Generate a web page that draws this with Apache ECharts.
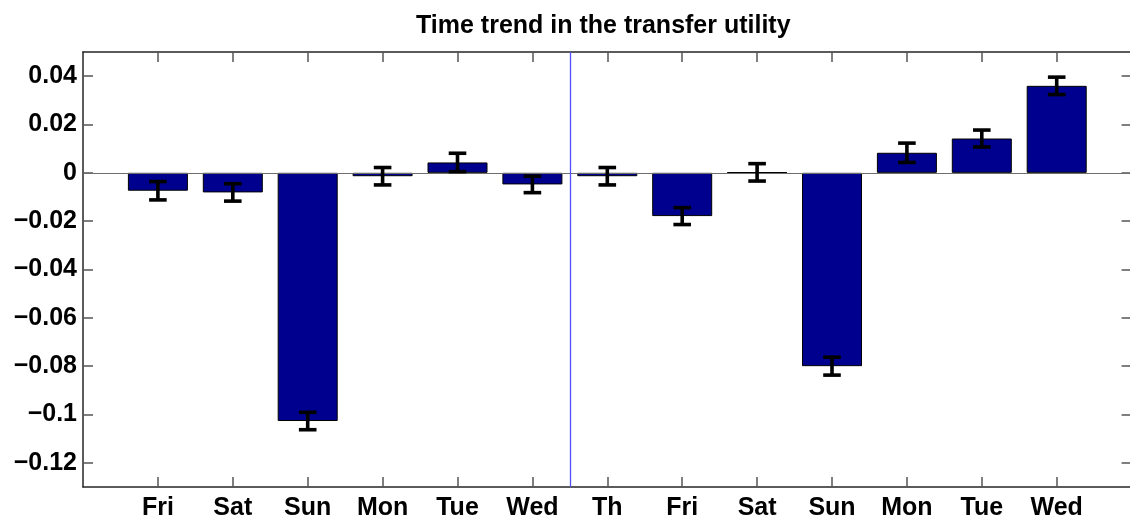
<!DOCTYPE html>
<html>
<head>
<meta charset="utf-8">
<script src="https://cdn.jsdelivr.net/npm/echarts@6/dist/echarts.min.js"></script>
<style>
html,body{margin:0;padding:0;background:#fff;}
#chart{width:1130px;height:523px;}
</style>
</head>
<body>
<div id="chart"></div>
<script>
var categories = ['Fri','Sat','Sun','Mon','Tue','Wed','Th','Fri','Sat','Sun','Mon','Tue','Wed'];
var values = [-0.0074, -0.0081, -0.1027, -0.0014, 0.0043, -0.0048, -0.0014, -0.0179, 0.0002, -0.0800, 0.0083, 0.0142, 0.0360];
var errors = [0.0038, 0.0036, 0.0036, 0.0036, 0.0038, 0.0034, 0.0036, 0.0035, 0.0036, 0.0037, 0.0040, 0.0035, 0.0036];
var yTickValues = [-0.12, -0.1, -0.08, -0.06, -0.04, -0.02, 0, 0.02, 0.04];
var yTickLabels = ['\u22120.12', '\u22120.1', '\u22120.08', '\u22120.06', '\u22120.04', '\u22120.02', '0', '0.02', '0.04'];
var splitPosition = 6.5;
var titleText = 'Time trend in the transfer utility';

var positions = categories.map(function (c, i) { return i + 1; });
var barData = values.map(function (v, i) { return [positions[i], v]; });
var errData = values.map(function (v, i) { return [positions[i], v, errors[i]]; });

var font = 'Liberation Sans, Arial, Helvetica, sans-serif';
var chart = echarts.init(document.getElementById('chart'), null, {renderer: 'canvas'});

var axisLineStyle = {color: '#262626', width: 1.5};
var tickStyle = {color: '#555', width: 1.5};

var option = {
  animation: false,
  backgroundColor: '#fff',
  title: {
    text: titleText,
    left: 411,
    top: 9,
    textStyle: {fontFamily: font, fontWeight: 'bold', fontSize: 25, color: '#000'}
  },
  grid: {left: 83, top: 52, width: 1048.6, height: 435, containLabel: false, outerBoundsMode: 'none'},
  xAxis: [{
    type: 'value', min: 0, max: 14, position: 'bottom',
    axisLine: {show: true, onZero: false, lineStyle: axisLineStyle},
    axisTick: {show: true, inside: true, length: 10, lineStyle: tickStyle, customValues: positions},
    axisLabel: {
      show: true, margin: 9, customValues: positions,
      fontFamily: font, fontWeight: 'bold', fontSize: 25, color: '#000',
      formatter: function (v) { return categories[Math.round(v) - 1] || ''; }
    },
    splitLine: {show: false}
  }, {
    type: 'value', min: 0, max: 14, position: 'top',
    axisLine: {show: true, onZero: false, lineStyle: axisLineStyle},
    axisTick: {show: true, inside: true, length: 10, lineStyle: tickStyle, customValues: positions},
    axisLabel: {show: false},
    splitLine: {show: false}
  }],
  yAxis: [{
    type: 'value', min: -0.13, max: 0.05, position: 'left',
    axisLine: {show: true, onZero: false, lineStyle: axisLineStyle},
    axisTick: {show: true, inside: true, length: 10, lineStyle: tickStyle, customValues: yTickValues},
    axisLabel: {
      show: true, margin: 6, customValues: yTickValues,
      fontFamily: font, fontWeight: 'bold', fontSize: 25, color: '#000',
      formatter: function (v) {
        for (var i = 0; i < yTickValues.length; i++) {
          if (Math.abs(yTickValues[i] - v) < 1e-9) return yTickLabels[i];
        }
        return '';
      }
    },
    splitLine: {show: false}
  }, {
    type: 'value', min: -0.13, max: 0.05, position: 'right',
    axisLine: {show: true, onZero: false, lineStyle: axisLineStyle},
    axisTick: {show: true, inside: true, length: 10, lineStyle: tickStyle, customValues: yTickValues},
    axisLabel: {show: false},
    splitLine: {show: false}
  }],
  series: [{
    type: 'bar',
    xAxisIndex: 0, yAxisIndex: 0,
    data: barData,
    barWidth: 60,
    itemStyle: {color: '#00008F', borderColor: '#000', borderWidth: 1},
    markLine: {
      silent: true, symbol: 'none', label: {show: false},
      lineStyle: {color: '#6e6e6e', width: 1.2, type: 'solid'},
      data: [{yAxis: 0}]
    },
    z: 2
  }, {
    type: 'custom',
    xAxisIndex: 0, yAxisIndex: 0,
    data: errData,
    renderItem: function (params, api) {
      var x = api.value(0), v = api.value(1), e = api.value(2);
      var top = api.coord([x, v + e]);
      var bot = api.coord([x, v - e]);
      var hw = 8.8;
      var st = {stroke: '#000', lineWidth: 3.6};
      return {
        type: 'group',
        children: [
          {type: 'line', shape: {x1: top[0], y1: top[1], x2: bot[0], y2: bot[1]}, style: st},
          {type: 'line', shape: {x1: top[0] - hw, y1: top[1], x2: top[0] + hw, y2: top[1]}, style: st},
          {type: 'line', shape: {x1: bot[0] - hw, y1: bot[1], x2: bot[0] + hw, y2: bot[1]}, style: st}
        ]
      };
    },
    markLine: {
      silent: true, symbol: 'none', label: {show: false},
      lineStyle: {color: '#5050ff', width: 1.3, type: 'solid', opacity: 1},
      emphasis: {disabled: true},
      data: [{xAxis: splitPosition}]
    },
    z: 5
  }]
};
chart.setOption(option);
</script>
</body>
</html>
